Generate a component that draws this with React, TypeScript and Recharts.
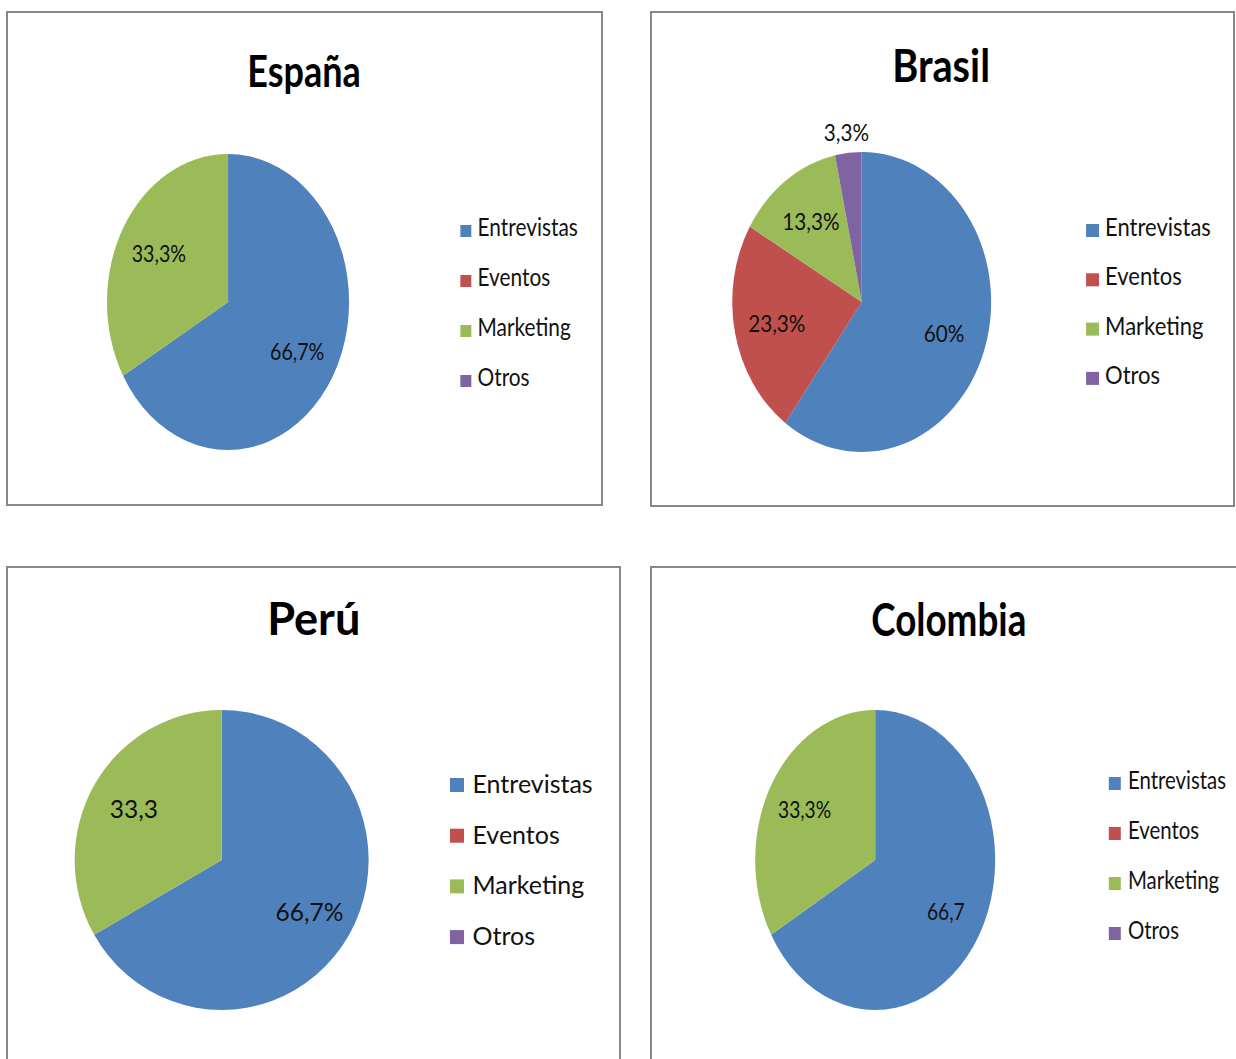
import React from "react";
import { PieChart, Pie, Cell, Legend } from "recharts";

// categorias y colores (estilo Excel 2007)
const categories = ["Entrevistas", "Eventos", "Marketing", "Otros"];
const colors = ["#4F81BD", "#C0504D", "#9BBB59", "#8064A2"];

// valores por pais (%)
const espanaValues = [66.7, 0, 33.3, 0];
const brasilValues = [60, 23.3, 13.3, 3.3];
const peruValues = [66.7, 0, 33.3, 0];
const colombiaValues = [66.7, 0, 33.3, 0];

// etiquetas tal como aparecen
const espanaLabels = ["66,7%", "", "33,3%", ""];
const brasilLabels = ["60%", "23,3%", "13,3%", "3,3%"];
const peruLabels = ["66,7%", "", "33,3", ""];
const colombiaLabels = ["66,7", "", "33,3%", ""];

const FONT = "Lato, 'Open Sans', sans-serif";
const RAD = Math.PI / 180;

type PanelProps = {
  title: string;
  values: number[];
  labels: string[];
  box: { left: number; top: number; width: number; height: number };
  sx: number;
  pie: { cx: number; cy: number; r: number };
  titlePos: { x: number; y: number; size: number };
  legend: {
    x: number;
    y: number;
    gap: number;
    sqW: number;
    sqH: number;
    base: number;
    textDx: number;
    size: number;
  };
  labelSize: number;
  labelR: number;
};

function PiePanel(props: PanelProps) {
  const { title, values, labels, box, sx, pie, titlePos, legend, labelSize, labelR } = props;
  const data = categories.map((name, i) => ({ name, value: values[i] }));
  // el grafico se dibuja "sin estirar" y luego se comprime en horizontal
  const w = (box.width - 4) / sx;
  const h = box.height - 4;

  const renderLabel = (p: any) => {
    const text = labels[p.index];
    if (!text) return null;
    const r = p.percent < 0.05 ? p.outerRadius + 21 : p.outerRadius * labelR;
    const x = p.cx + r * Math.cos(-p.midAngle * RAD);
    const y = p.cy + r * Math.sin(-p.midAngle * RAD);
    return (
      <text
        x={x}
        y={y}
        textAnchor="middle"
        dominantBaseline="central"
        fontSize={labelSize}
        fontFamily={FONT}
        fill="#111"
      >
        {text}
      </text>
    );
  };

  const renderLegend = (lp: any) => {
    const payload = lp.payload || [];
    return (
      <svg width={200} height={legend.gap * 4} style={{ display: "block", overflow: "visible" }}>
        {payload.map((entry: any, i: number) => (
          <g key={i}>
            <rect x={0} y={i * legend.gap} width={legend.sqW} height={legend.sqH} fill={entry.color} />
            <text
              x={legend.textDx}
              y={i * legend.gap + legend.base}
              fontSize={legend.size}
              fontFamily={FONT}
              fill="#111"
            >
              {entry.value}
            </text>
          </g>
        ))}
      </svg>
    );
  };

  return (
    <div
      style={{
        position: "absolute",
        left: box.left,
        top: box.top,
        width: box.width,
        height: box.height,
        border: "2px solid #878787",
        boxSizing: "border-box",
        background: "#fff",
        overflow: "hidden",
      }}
    >
      <div
        style={{
          position: "absolute",
          left: 0,
          top: 0,
          width: w,
          height: h,
          transform: `scaleX(${sx})`,
          transformOrigin: "0 0",
        }}
      >
        <svg width={w} height={110} style={{ position: "absolute", left: 0, top: 0 }}>
          <text
            x={titlePos.x}
            y={titlePos.y}
            textAnchor="middle"
            fontSize={titlePos.size}
            fontWeight="bold"
            fontFamily={FONT}
            fill="#000"
          >
            {title}
          </text>
        </svg>
        <PieChart
          width={w}
          height={h}
          margin={{ top: 0, right: 0, bottom: 0, left: 0 }}
          style={{ position: "absolute", left: 0, top: 0 }}
        >
          <Pie
            data={data}
            dataKey="value"
            nameKey="name"
            cx={pie.cx}
            cy={pie.cy}
            outerRadius={pie.r}
            startAngle={90}
            endAngle={-270}
            stroke="none"
            label={renderLabel}
            labelLine={false}
            isAnimationActive={false}
          >
            {data.map((d, i) => (
              <Cell key={d.name} fill={colors[i]} />
            ))}
          </Pie>
          <Legend
            content={renderLegend}
            wrapperStyle={{ position: "absolute", left: legend.x, top: legend.y, width: 200 }}
          />
        </PieChart>
      </div>
    </div>
  );
}

export default function App() {
  return (
    <div
      style={{
        position: "absolute",
        left: 0,
        top: 0,
        width: 1236,
        height: 1059,
        overflow: "hidden",
        background: "#fff",
      }}
    >
      <PiePanel
        title="España"
        values={espanaValues}
        labels={espanaLabels}
        box={{ left: 6, top: 11, width: 597, height: 495 }}
        sx={0.818}
        pie={{ cx: 269, cy: 289, r: 148 }}
        titlePos={{ x: 362, y: 74, size: 44 }}
        legend={{ x: 553, y: 212, gap: 50, sqW: 13.4, sqH: 12, base: 11, textDx: 21, size: 25.5 }}
        labelSize={24}
        labelR={0.66}
      />
      <PiePanel
        title="Brasil"
        values={brasilValues}
        labels={brasilLabels}
        box={{ left: 650, top: 11, width: 585, height: 496 }}
        sx={0.863}
        pie={{ cx: 243, cy: 289, r: 150 }}
        titlePos={{ x: 335, y: 69, size: 46 }}
        legend={{ x: 503, y: 211, gap: 49.3, sqW: 15, sqH: 13, base: 12, textDx: 22, size: 25.5 }}
        labelSize={24}
        labelR={0.67}
      />
      <PiePanel
        title="Perú"
        values={peruValues}
        labels={peruLabels}
        box={{ left: 6, top: 566, width: 615, height: 500 }}
        sx={0.98}
        pie={{ cx: 218, cy: 292, r: 150 }}
        titlePos={{ x: 312, y: 67, size: 46 }}
        legend={{ x: 451, y: 210, gap: 50.7, sqW: 14.3, sqH: 14, base: 15, textDx: 23, size: 25.5 }}
        labelSize={25}
        labelR={0.69}
      />
      <PiePanel
        title="Colombia"
        values={colombiaValues}
        labels={colombiaLabels}
        box={{ left: 650, top: 566, width: 600, height: 500 }}
        sx={0.8}
        pie={{ cx: 279, cy: 292, r: 150 }}
        titlePos={{ x: 371, y: 68, size: 46 }}
        legend={{ x: 571, y: 209, gap: 50, sqW: 15, sqH: 13, base: 12, textDx: 24, size: 25.5 }}
        labelSize={24}
        labelR={0.68}
      />
    </div>
  );
}
